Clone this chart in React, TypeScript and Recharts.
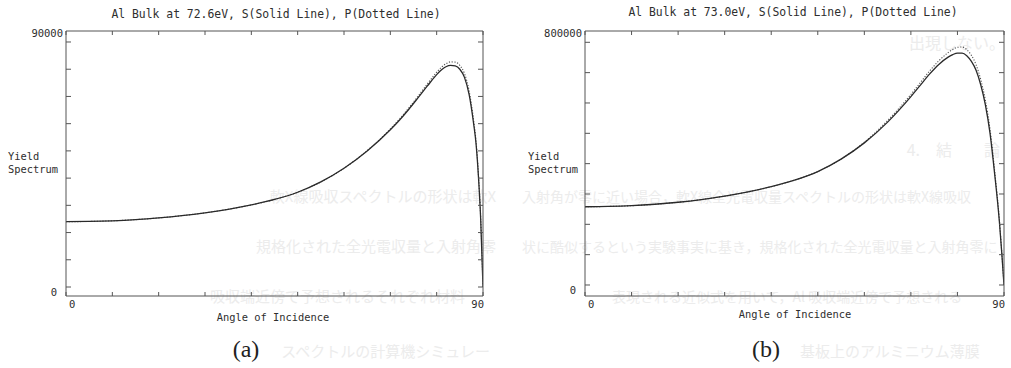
import React from 'react';
import { LineChart, Line, XAxis, YAxis } from 'recharts';

// ---------- data ----------
const anglesA = [0, 5, 10, 15, 20, 25, 30, 35, 40, 45, 50, 55, 60, 65, 70, 72, 74, 76, 78, 80, 81, 82, 83, 84, 85, 86, 87, 88, 88.5, 89, 89.5, 90];
const solidA = [24000, 24080, 24320, 24750, 25380, 26200, 27250, 28550, 30150, 32150, 34800, 38600, 43600, 49950, 57750, 61350, 65310, 69550, 73850, 78000, 79700, 80900, 81400, 81200, 80000, 77000, 70800, 59700, 52600, 41000, 25000, 0];
const dottedA = [24000, 24080, 24320, 24750, 25380, 26200, 27250, 28550, 30150, 32150, 34800, 38600, 43600, 50100, 58050, 61750, 65810, 70150, 74600, 78900, 80700, 82000, 82700, 82600, 81400, 78400, 72100, 60900, 53600, 41800, 25500, 0];

const anglesB = [0, 5, 10, 15, 20, 25, 30, 35, 40, 45, 50, 55, 60, 65, 70, 72, 74, 76, 78, 79, 80, 81, 82, 83, 84, 85, 86, 87, 88, 89, 89.5, 90];
const solidB = [258000, 258900, 261400, 266100, 272800, 281700, 293000, 307000, 324100, 345600, 374000, 415000, 468500, 537000, 621000, 658000, 695000, 727000, 751000, 759500, 764500, 764500, 756000, 737000, 708000, 660000, 594000, 500000, 365000, 210000, 110000, 0];
const dottedB = [258000, 258900, 261400, 266100, 272800, 281700, 293000, 307000, 324100, 345600, 374000, 415000, 470500, 542000, 628000, 666500, 705000, 739000, 766000, 776500, 783500, 784500, 776000, 757000, 726000, 677000, 609000, 513000, 375000, 216000, 113000, 0];

const xTicks = [0, 10, 20, 30, 40, 50, 60, 70, 80, 90];
const yTicksA = [0, 10000, 20000, 30000, 40000, 50000, 60000, 70000, 80000, 90000];
const yTicksB = [0, 100000, 200000, 300000, 400000, 500000, 600000, 700000, 800000];

const titleA = 'Al Bulk at 72.6eV, S(Solid Line), P(Dotted Line)';
const titleB = 'Al Bulk at 73.0eV, S(Solid Line), P(Dotted Line)';
const yLabel1 = 'Yield';
const yLabel2 = 'Spectrum';
const xLabel = 'Angle of Incidence';

// faint show-through text of the scanned page
const ghostRight = [
  '入射角が零に近い場合，軟X線全光電収量スペクトルの形状は軟X線吸収',
  '状に酷似するという実験事実に基き，規格化された全光電収量と入射角零に',
  '表現される近似式を用いて，Al 吸収端近傍で予想される',
];
const ghostLeft = [
  '軟X線吸収スペクトルの形状は軟X',
  '規格化された全光電収量と入射角零',
  '吸収端近傍で予想されるそれぞれ材料',
];
const ghostBottomLeft = 'スペクトルの計算機シミュレー';
const ghostBottomRight = '基板上のアルミニウム薄膜';
const ghostTop = '出現しない。';
const ghostHead = '4.　結　　論';

// ---------- styles ----------
const mono = '"DejaVu Sans Mono", "Liberation Mono", monospace';
const axisColor = '#555';
const textColor = '#2e2e2e';

const build = (xs: number[], s: number[], p: number[]) => xs.map((a, i) => ({ angle: a, s: s[i], p: p[i] }));
const rowsA = build(anglesA, solidA, dottedA);
const rowsB = build(anglesB, solidB, dottedB);

const fmt = (v: number) => String(v);

function makeLeftTick(labelValues: number[]) {
  return (props: any) => {
    const { x, y, payload } = props;
    const v = payload.value;
    const isTop = v === labelValues[1];
    const isZero = v === labelValues[0];
    return (
      <g>
        <line x1={x} y1={y} x2={x + 5} y2={y} stroke={axisColor} strokeWidth={1} />
        {isTop && (
          <text x={x - 3} y={y - 9} dy="0.35em" textAnchor="end" fontFamily={mono} fontSize={10.5} fill={textColor}>
            {fmt(v)}
          </text>
        )}
        {isZero && (
          <text x={x - 9} y={y + 5} dy="0.35em" textAnchor="end" fontFamily={mono} fontSize={10.5} fill={textColor}>
            {fmt(v)}
          </text>
        )}
      </g>
    );
  };
}

const rightTick = (props: any) => {
  const { x, y } = props;
  return <line x1={x - 5} y1={y} x2={x} y2={y} stroke={axisColor} strokeWidth={1} />;
};

const topTick = (props: any) => {
  const { x, y } = props;
  return <line x1={x} y1={y} x2={x} y2={y + 4} stroke={axisColor} strokeWidth={1} />;
};

const bottomTick = (props: any) => {
  const { x, y, payload } = props;
  const v = payload.value;
  return (
    <g>
      <line x1={x} y1={y} x2={x} y2={y - 4} stroke={axisColor} strokeWidth={1} />
      {v === 0 && (
        <text x={x + 3} y={y + 8} dy="0.35em" textAnchor="start" fontFamily={mono} fontSize={10.5} fill={textColor}>
          {fmt(v)}
        </text>
      )}
      {v === 90 && (
        <text x={x + 1} y={y + 8} dy="0.35em" textAnchor="end" fontFamily={mono} fontSize={10.5} fill={textColor}>
          {fmt(v)}
        </text>
      )}
    </g>
  );
};

type PanelProps = {
  left: number;
  width: number;
  mLeft: number;
  mRight: number;
  rows: { angle: number; s: number; p: number }[];
  yDomain: [number, number];
  yTicks: number[];
};

function Panel({ left, width, mLeft, mRight, rows, yDomain, yTicks }: PanelProps) {
  const lbl = [yTicks[0], yTicks[yTicks.length - 1]];
  return (
    <div style={{ position: 'absolute', left, top: 0 }}>
      <LineChart width={width} height={368} data={rows} margin={{ top: 30, left: mLeft, right: mRight, bottom: 71 }}>
        <XAxis
          xAxisId="b"
          dataKey="angle"
          type="number"
          domain={[0, 90]}
          ticks={xTicks}
          interval={0}
          allowDataOverflow
          height={1}
          tickSize={0}
          tickMargin={0}
          tickLine={false}
          axisLine={{ stroke: axisColor, strokeWidth: 1 }}
          tick={bottomTick}
        />
        <XAxis
          xAxisId="t"
          orientation="top"
          dataKey="angle"
          type="number"
          domain={[0, 90]}
          ticks={xTicks}
          interval={0}
          allowDataOverflow
          height={1}
          tickSize={0}
          tickMargin={0}
          tickLine={false}
          axisLine={{ stroke: axisColor, strokeWidth: 1 }}
          tick={topTick}
        />
        <YAxis
          yAxisId="l"
          type="number"
          domain={yDomain}
          ticks={yTicks}
          interval={0}
          allowDataOverflow
          width={1}
          tickSize={0}
          tickMargin={0}
          tickLine={false}
          axisLine={{ stroke: axisColor, strokeWidth: 1 }}
          tick={makeLeftTick(lbl)}
        />
        <YAxis
          yAxisId="r"
          orientation="right"
          type="number"
          domain={yDomain}
          ticks={yTicks}
          interval={0}
          allowDataOverflow
          width={1}
          tickSize={0}
          tickMargin={0}
          tickLine={false}
          axisLine={{ stroke: axisColor, strokeWidth: 1 }}
          tick={rightTick}
        />
        <Line
          xAxisId="t"
          yAxisId="r"
          dataKey="s"
          stroke="none"
          dot={false}
          activeDot={false}
          isAnimationActive={false}
        />
        <Line
          xAxisId="b"
          yAxisId="l"
          type="monotone"
          dataKey="p"
          stroke="#555"
          strokeWidth={1.1}
          strokeDasharray="1.2 1.6"
          dot={false}
          activeDot={false}
          isAnimationActive={false}
        />
        <Line
          xAxisId="b"
          yAxisId="l"
          type="monotone"
          dataKey="s"
          stroke="#2a2a2a"
          strokeWidth={1.3}
          dot={false}
          activeDot={false}
          isAnimationActive={false}
        />
      </LineChart>
    </div>
  );
}

export default function App() {
  const ghostColor = '#ececec';
  const ghostFont = '"Noto Sans CJK JP", sans-serif';
  const ghostY = [197, 247, 297];
  const ghostRightX = [522, 522, 612];
  const ghostLeftX = [496, 496, 465];
  return (
    <div style={{ position: 'absolute', left: 0, top: 0, width: 1011, height: 368, background: '#fff', overflow: 'hidden' }}>
      <svg width={1011} height={368} style={{ position: 'absolute', left: 0, top: 0 }}>
        {ghostRight.map((t, i) => (
          <text key={'r' + i} x={ghostRightX[i]} y={ghostY[i]} dy="0.35em" fontFamily={ghostFont} fontSize={14} fill={ghostColor}>
            {t}
          </text>
        ))}
        {ghostLeft.map((t, i) => (
          <text key={'l' + i} x={ghostLeftX[i]} y={ghostY[i]} dy="0.35em" textAnchor="end" fontFamily={ghostFont} fontSize={15} fill={ghostColor}>
            {t}
          </text>
        ))}
        <text x={490} y={352} dy="0.35em" textAnchor="end" fontFamily={ghostFont} fontSize={15} fill={ghostColor}>{ghostBottomLeft}</text>
        <text x={800} y={352} dy="0.35em" fontFamily={ghostFont} fontSize={15} fill={ghostColor}>{ghostBottomRight}</text>
        <text x={1005} y={43} dy="0.35em" textAnchor="end" fontFamily={ghostFont} fontSize={16} fill={ghostColor}>{ghostTop}</text>
        <text x={1000} y={150} dy="0.35em" textAnchor="end" fontFamily={ghostFont} fontSize={16} fill={ghostColor}>{ghostHead}</text>
      </svg>

      <Panel left={0} width={500} mLeft={65} mRight={16} rows={rowsA} yDomain={[-3306, 94040]} yTicks={yTicksA} />
      <Panel left={500} width={511} mLeft={84} mRight={6} rows={rowsB} yDomain={[-36260, 837250]} yTicks={yTicksB} />

      <svg width={1011} height={368} style={{ position: 'absolute', left: 0, top: 0, pointerEvents: 'none' }}>
        <text x={276} y={14} dy="0.35em" textAnchor="middle" fontFamily={mono} fontSize={11.4} fill={textColor}>{titleA}</text>
        <text x={793} y={12} dy="0.35em" textAnchor="middle" fontFamily={mono} fontSize={11.4} fill={textColor}>{titleB}</text>

        <text x={8} y={156} dy="0.35em" fontFamily={mono} fontSize={10.4} fill={textColor}>{yLabel1}</text>
        <text x={8} y={169} dy="0.35em" fontFamily={mono} fontSize={10.4} fill={textColor}>{yLabel2}</text>
        <text x={528} y={156} dy="0.35em" fontFamily={mono} fontSize={10.4} fill={textColor}>{yLabel1}</text>
        <text x={528} y={169} dy="0.35em" fontFamily={mono} fontSize={10.4} fill={textColor}>{yLabel2}</text>

        <text x={273} y={317} dy="0.35em" textAnchor="middle" fontFamily={mono} fontSize={10.4} fill={textColor}>{xLabel}</text>
        <text x={795} y={314} dy="0.35em" textAnchor="middle" fontFamily={mono} fontSize={10.4} fill={textColor}>{xLabel}</text>

        <text x={246} y={349} dy="0.35em" textAnchor="middle" fontFamily='"Liberation Serif", "DejaVu Serif", serif' fontSize={24} fill="#222">(a)</text>
        <text x={766} y={349} dy="0.35em" textAnchor="middle" fontFamily='"Liberation Serif", "DejaVu Serif", serif' fontSize={24} fill="#222">(b)</text>
      </svg>
    </div>
  );
}
